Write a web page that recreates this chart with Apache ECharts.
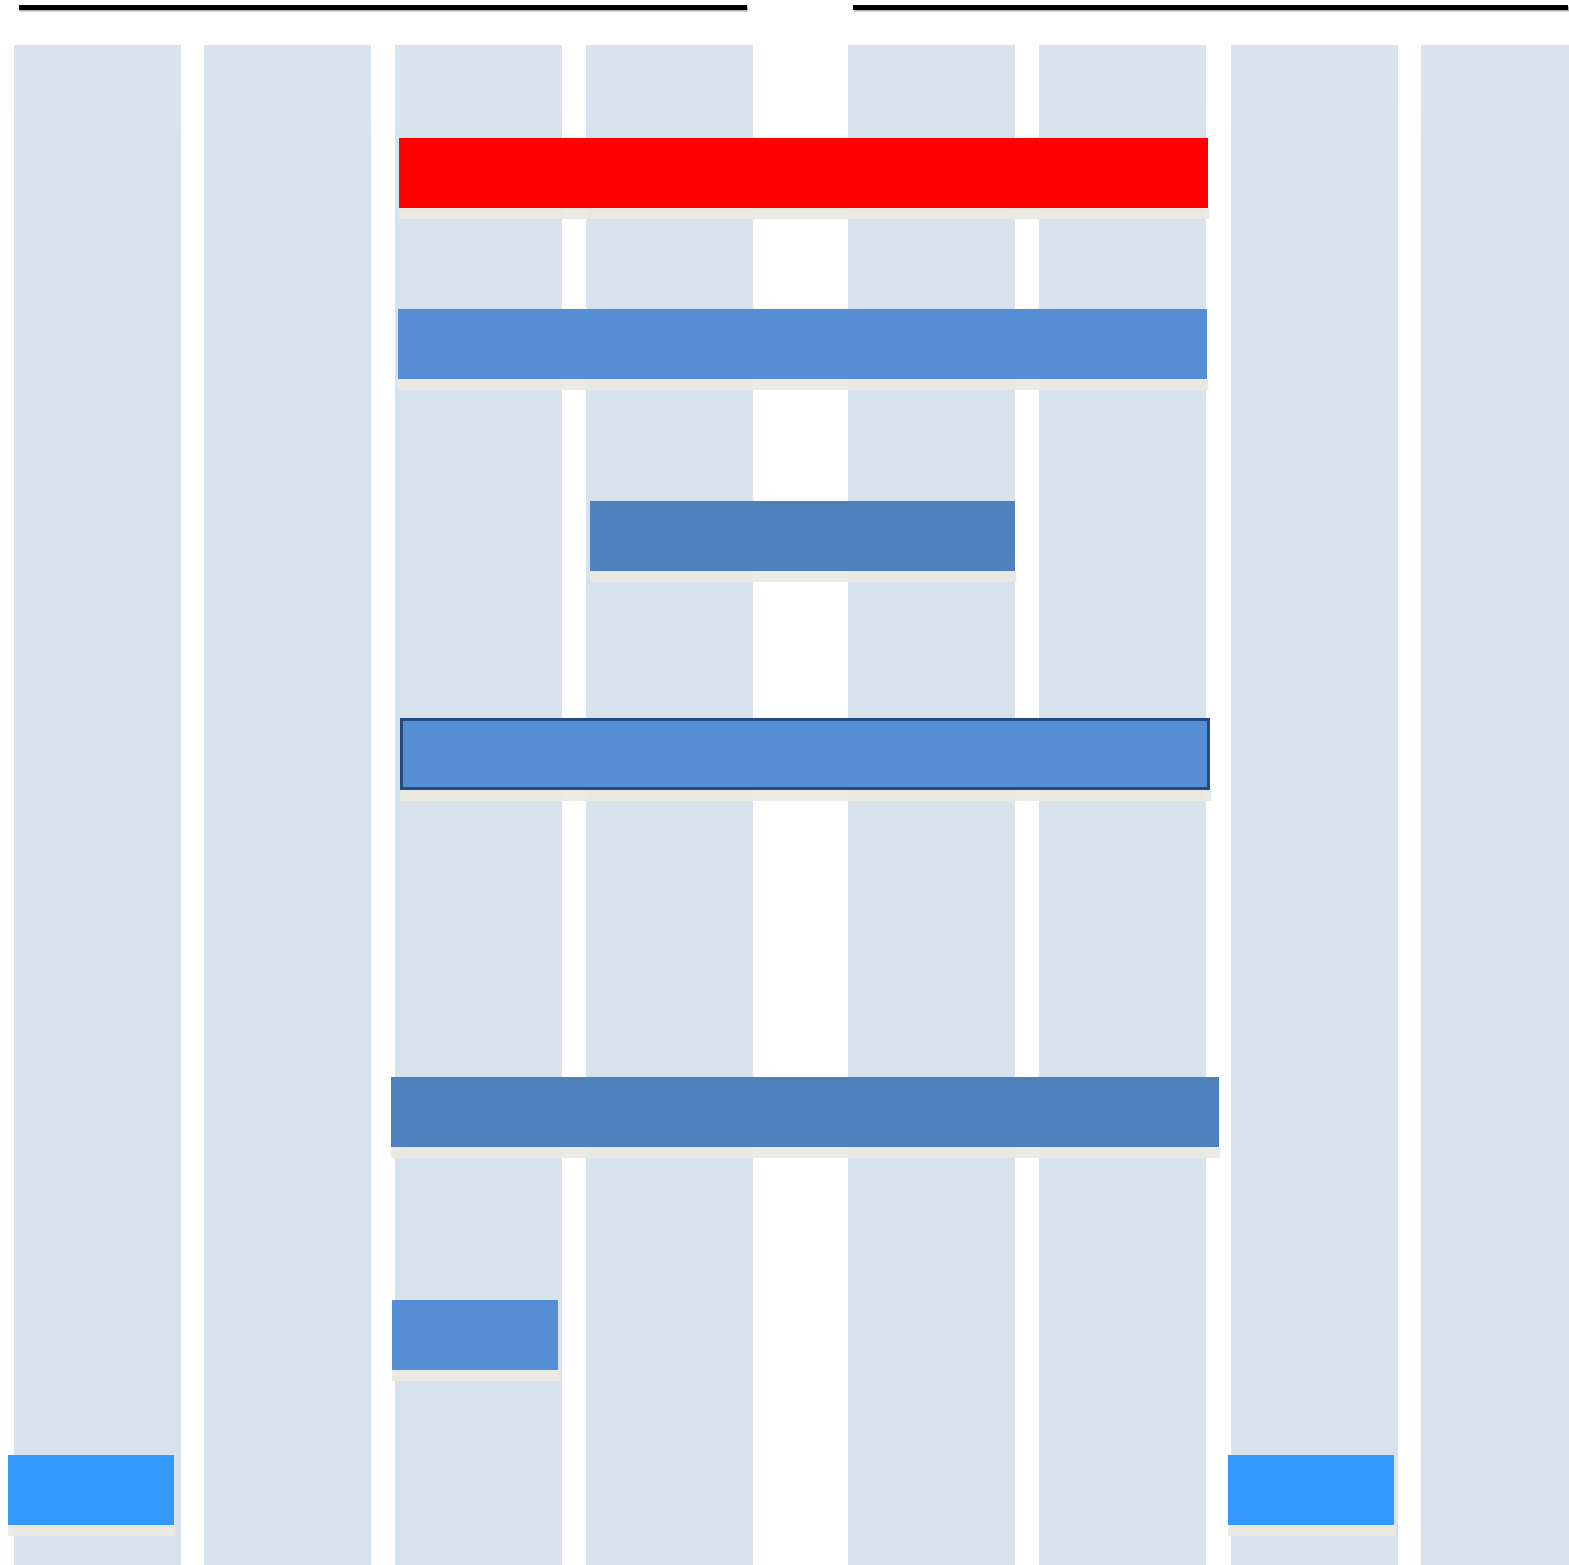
<!DOCTYPE html>
<html>
<head>
<meta charset="utf-8">
<script src="https://cdn.jsdelivr.net/npm/echarts@6/dist/echarts.min.js"></script>
<style>
  html, body { margin: 0; padding: 0; background: #ffffff; }
  #chart { width: 1569px; height: 1565px; }
</style>
</head>
<body>
<div id="chart"></div>
<script>
// ---- data (in the chart's own horizontal / vertical units) ----
const columnStart = [14, 204, 395, 586, 848, 1039, 1231, 1421];
const columnEnd   = [181, 371, 562, 753, 1015, 1206, 1398, 1570];

const headerStart = [20, 854];
const headerEnd   = [748, 1569];

const barStart = [399, 398, 590, 400, 391, 392, 8, 1228];
const barEnd   = [1208, 1207, 1015, 1210, 1219, 558, 174, 1394];
const barTop   = [138, 309, 501, 718, 1077, 1300, 1455, 1455];
const barKind  = [0, 1, 2, 3, 2, 1, 4, 4];

// ---- styles ----
const X_MAX = 1569, Y_MAX = 1565;
const COL_TOP = 45, HEADER_Y = 7.5, BAR_H = 70, BAR_H_BORDERED = 72;
const kindStyle = [
  { fill: '#FF0000' },
  { fill: '#558ED5' },
  { fill: '#4F81BD' },
  { fill: '#558ED5', stroke: '#254B7E', lineWidth: 3 },
  { fill: '#3399FF' }
];

const chart = echarts.init(document.getElementById('chart'), null, { renderer: 'canvas' });

const columnData = columnStart.map((s, i) => [s, columnEnd[i]]);
const headerData = headerStart.map((s, i) => [s, headerEnd[i]]);
const barData = barStart.map((s, i) => [s, barEnd[i], barTop[i], barKind[i]]);

chart.setOption({
  animation: false,
  backgroundColor: '#ffffff',
  grid: { left: 0, right: 0, top: 0, bottom: 0 },
  xAxis: { type: 'value', min: 0, max: X_MAX, show: false },
  yAxis: { type: 'value', min: 0, max: Y_MAX, inverse: true, show: false },
  series: [
    {
      type: 'custom',
      data: columnData,
      z: 1,
      renderItem: function (params, api) {
        const p0 = api.coord([api.value(0), COL_TOP]);
        const p1 = api.coord([api.value(1), Y_MAX]);
        return {
          type: 'rect',
          shape: { x: p0[0], y: p0[1], width: p1[0] - p0[0], height: p1[1] - p0[1] },
          style: {
            fill: {
              type: 'linear', x: 0, y: 0, x2: 0, y2: 1,
              colorStops: [
                { offset: 0, color: '#DAE3EE' },
                { offset: 0.055, color: '#D9E3EE' },
                { offset: 0.06, color: '#D8E2ED' },
                { offset: 1, color: '#D8E2ED' }
              ]
            }
          }
        };
      }
    },
    {
      type: 'custom',
      data: headerData,
      z: 2,
      renderItem: function (params, api) {
        const p0 = api.coord([api.value(0), HEADER_Y]);
        const p1 = api.coord([api.value(1), HEADER_Y]);
        return {
          type: 'group',
          children: [
            { type: 'rect', shape: { x: p0[0], y: p0[1] - 1, width: p1[0] - p0[0], height: 5 },
              style: { fill: '#B0B0B0' } },
            { type: 'rect', shape: { x: p0[0] - 1, y: p0[1] - 2.5, width: p1[0] - p0[0], height: 5 },
              style: { fill: '#000000' } }
          ]
        };
      }
    },
    {
      type: 'custom',
      data: barData,
      z: 3,
      renderItem: function (params, api) {
        const kind = api.value(3);
        const st = kindStyle[kind];
        const h = st.stroke ? BAR_H_BORDERED : BAR_H;
        const p0 = api.coord([api.value(0), api.value(2)]);
        const p1 = api.coord([api.value(1), api.value(2) + h]);
        const w = p1[0] - p0[0];
        const children = [
          { type: 'rect', shape: { x: p0[0], y: p1[1], width: w + 1.5, height: 11 },
            style: { fill: 'rgba(234,233,226,0.95)' } }
        ];
        if (st.stroke) {
          children.push({ type: 'rect',
            shape: { x: p0[0] + 1.5, y: p0[1] + 1.5, width: w - 3, height: h - 3 },
            style: { fill: st.fill, stroke: st.stroke, lineWidth: st.lineWidth } });
        } else {
          children.push({ type: 'rect', shape: { x: p0[0], y: p0[1], width: w, height: h },
            style: { fill: st.fill } });
        }
        return { type: 'group', children: children };
      }
    }
  ]
});
</script>
</body>
</html>
